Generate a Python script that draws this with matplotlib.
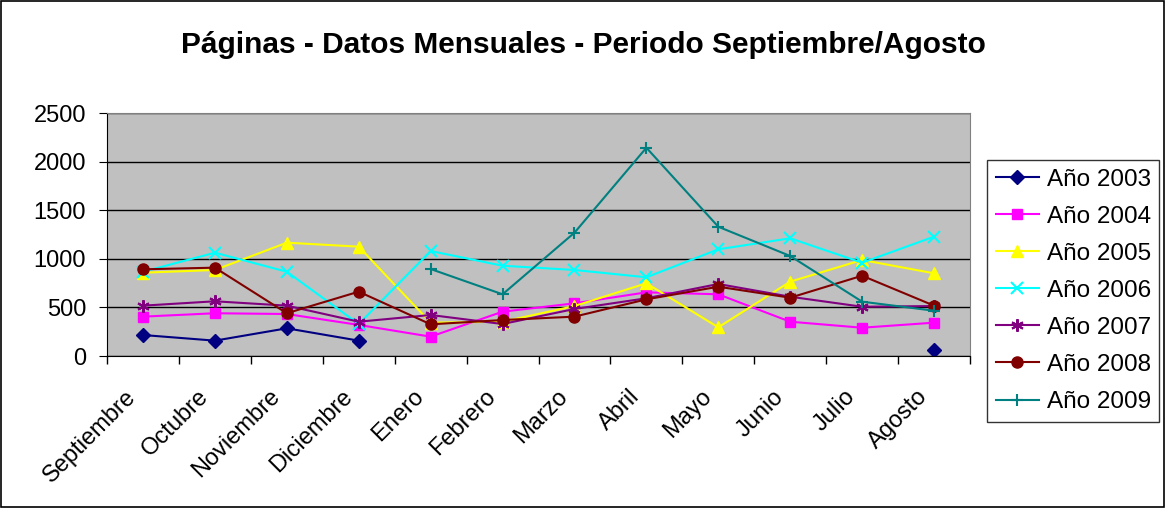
import matplotlib
matplotlib.use('Agg')
import matplotlib.pyplot as plt
import matplotlib.transforms as mtransforms
import numpy as np

plt.rcParams['font.family'] = ['Liberation Sans', 'DejaVu Sans']

meses = ["Septiembre", "Octubre", "Noviembre", "Diciembre", "Enero", "Febrero",
         "Marzo", "Abril", "Mayo", "Junio", "Julio", "Agosto"]
nan = np.nan
anio_2003 = [216, 158, 285, 158, nan, nan, nan, nan, nan, nan, nan, 62]
anio_2004 = [405, 440, 432, 320, 199, 456, 542, 655, 635, 353, 291, 343]
anio_2005 = [857, 885, 1166, 1125, 343, 353, 514, 748, 295, 765, 988, 851]
anio_2006 = [867, 1063, 867, 329, 1080, 929, 885, 810, 1098, 1211, 960, 1228]
anio_2007 = [518, 563, 518, 353, 422, 329, 484, 594, 741, 610, 507, 514]
anio_2008 = [892, 909, 440, 662, 326, 370, 405, 583, 713, 600, 826, 518]
anio_2009 = [nan, nan, nan, nan, 895, 635, 1269, 2143, 1330, 1029, 559, 466]

series = [
    ("Año 2003", anio_2003, "#000080", "D", 7),
    ("Año 2004", anio_2004, "#FF00FF", "s", 7),
    ("Año 2005", anio_2005, "#FFFF00", "^", 8),
    ("Año 2006", anio_2006, "#00FFFF", "x", 8),
    ("Año 2007", anio_2007, "#800080", (6, 2, 0), 9),
    ("Año 2008", anio_2008, "#800000", "o", 8),
    ("Año 2009", anio_2009, "#008080", "+", 9),
]

fig = plt.figure(figsize=(11.66, 5.08), dpi=100)
ax = fig.add_axes([0.0918, 0.2992, 0.7401, 0.4783])
ax.set_facecolor("#C0C0C0")

x = np.arange(len(meses))
for name, vals, color, marker, ms in series:
    ax.plot(x, vals, color=color, marker=marker, markersize=ms, linewidth=1.5,
            markeredgewidth=1.5 if marker in ("x", "+", (6, 2, 0)) else 1,
            label=name)

ax.set_xlim(-0.5, len(meses) - 0.5)
ax.set_ylim(0, 2500)
ax.set_yticks(np.arange(0, 2501, 500))
ax.yaxis.grid(True, color="black", linewidth=1)
ax.set_axisbelow(True)

ax.set_xticks(np.arange(-0.5, len(meses), 1))
ax.set_xticklabels([])
ax.set_xticks(x, minor=True)
ax.set_xticklabels(meses, minor=True, rotation=45, ha='right', va='center',
                   rotation_mode='anchor', fontsize=17)
ax.tick_params(axis='x', which='minor', length=0, pad=27)
ax.tick_params(axis='x', which='major', length=6, width=1)
ax.tick_params(axis='y', labelsize=17, length=6, pad=9)
shift = mtransforms.ScaledTranslation(-10 / 100, 0, fig.dpi_scale_trans)
for lbl in ax.get_xticklabels(minor=True):
    lbl.set_transform(lbl.get_transform() + shift)

for s in ["top", "right"]:
    ax.spines[s].set_color("#808080")
for s in ["left", "bottom"]:
    ax.spines[s].set_color("black")

fig.suptitle("Páginas - Datos Mensuales - Periodo Septiembre/Agosto",
             fontsize=21.5, fontweight='bold', y=1 - 45 / 508, va='center')

leg = fig.legend(loc='upper left', bbox_to_anchor=(0.8465, 0.685), fontsize=17.5,
                 frameon=True, fancybox=False, edgecolor="black",
                 borderpad=0.35, labelspacing=0.62, handlelength=1.8,
                 handletextpad=0.3, borderaxespad=0)
leg.get_frame().set_linewidth(1)

fig.patches.append(plt.Rectangle((0.001, 0.002), 0.997, 0.996, transform=fig.transFigure,
                                 fill=False, edgecolor="black", linewidth=1.2))

fig.savefig("out.png", dpi=100)
